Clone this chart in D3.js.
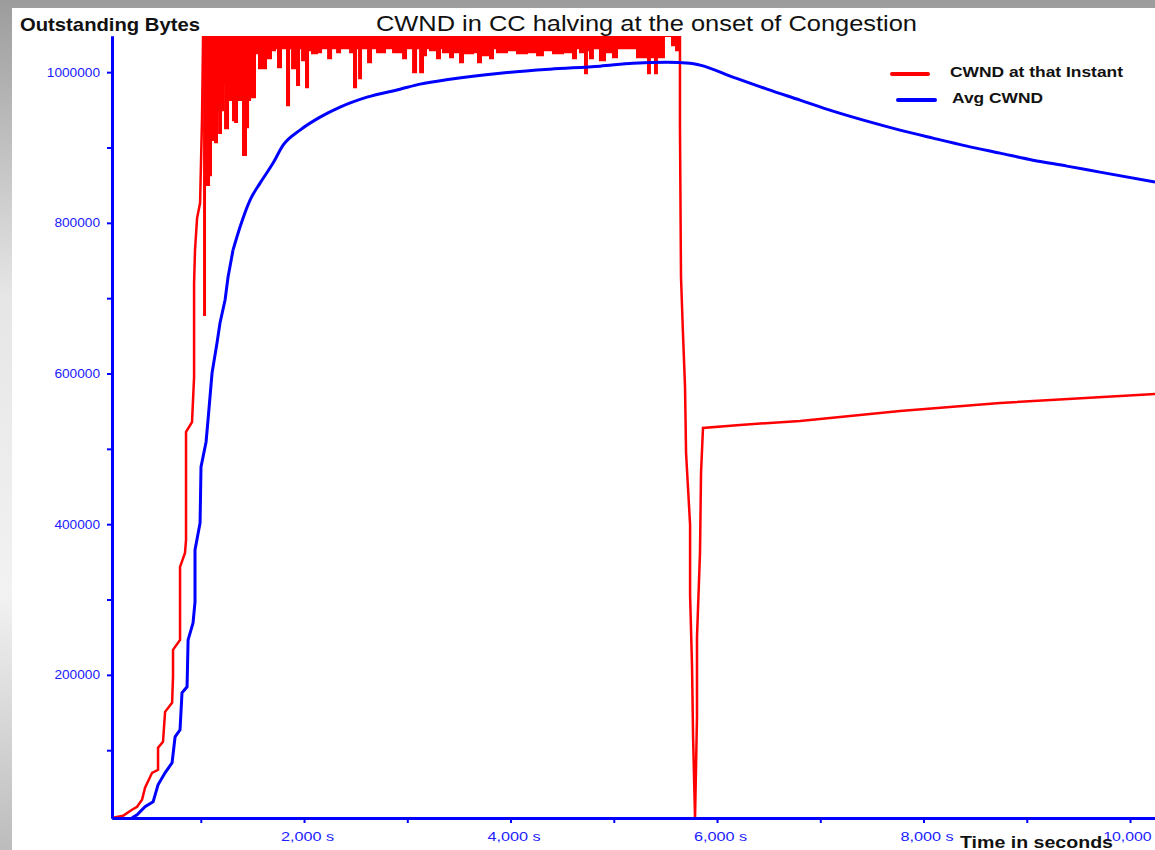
<!DOCTYPE html>
<html>
<head>
<meta charset="utf-8">
<title>CWND in CC halving at the onset of Congestion</title>
<script src="https://cdn.jsdelivr.net/npm/d3@7"></script>
<style>
  html, body { margin: 0; padding: 0; background: #fff; }
  #chart { width: 1155px; height: 850px; overflow: hidden; }
</style>
</head>
<body>
<div id="chart"></div>
<script>
(function () {
  'use strict';

  // axis ticks (time in ms, printed with an "s" suffix like the original slide)
  var xTickValues = [2000, 4000, 6000, 8000, 10000];
  var xMinorTicks = [1000, 3000, 5000, 7000, 9000];
  var yTickValues = [200000, 400000, 600000, 800000, 1000000];
  var yMinorTicks = [100000, 300000, 500000, 700000, 900000];

  // CWND at that instant: slow start ramp  [time, bytes]
  var redRise = [
    [150, 10300], [247, 12950], [334, 20900], [383, 24900], [431, 34200], [460, 50100],
    [528, 70000], [586, 74000], [586, 103200], [634, 111100], [654, 150900], [722, 162900],
    [731, 197400], [731, 233200], [799, 246400], [799, 343300], [847, 361900], [857, 379000],
    [857, 522400], [915, 535600], [935, 595400], [935, 720000], [944, 763800], [964, 806300],
    [993, 826200], [1012, 939000], [1022, 1048000]
  ];

  // congestion phase: lower edge of the dense oscillation, the rest is above the plot top
  var redPeak = [
    [1022, 677600], [1041, 936300], [1060, 850100], [1080, 863300], [1099, 909800], [1119, 949600],
    [1138, 907100], [1157, 949600], [1177, 919100], [1196, 949600], [1215, 985400], [1235, 925700],
    [1264, 962900], [1293, 982800], [1312, 936300], [1332, 933700], [1351, 993400], [1370, 962900],
    [1390, 992000], [1409, 889900], [1438, 927000], [1458, 962900], [1477, 1015900], [1496, 966800],
    [1525, 1025200], [1545, 1029200], [1564, 1005300], [1593, 1025200], [1612, 1005300], [1632, 1025200],
    [1651, 1018600], [1680, 1029200], [1719, 1031800], [1748, 1006600], [1777, 1031800], [1835, 956200],
    [1855, 1031800], [1884, 1005300], [1913, 1031800], [1932, 982800], [1952, 1031800], [1981, 1015900],
    [2000, 1031800], [2019, 980100], [2039, 1029200], [2077, 1025200], [2126, 1026500], [2165, 1031800],
    [2233, 1018600], [2262, 1031800], [2320, 1026500], [2349, 1031800], [2446, 1026500], [2484, 980100],
    [2504, 1031800], [2533, 992000], [2552, 1031800], [2620, 1013300], [2649, 1031800], [2707, 1026500],
    [2784, 1031800], [2862, 1026500], [2959, 1018600], [2988, 1031800], [3056, 1000000], [3085, 1031800],
    [3124, 1000000], [3152, 1022600], [3181, 1031800], [3220, 1029200], [3288, 1018600], [3317, 1031800],
    [3346, 1026500], [3414, 1019900], [3443, 1031800], [3462, 1026500], [3511, 1013300], [3540, 1031800],
    [3559, 1025200], [3637, 1026500], [3685, 1013300], [3714, 1031800], [3733, 1022600], [3801, 1018600],
    [3830, 1031800], [3869, 1026500], [3966, 1029200], [4063, 1025200], [4160, 1026500], [4257, 1022600],
    [4314, 1029200], [4411, 1025200], [4508, 1026500], [4605, 1018600], [4634, 1031800], [4673, 1026500],
    [4721, 998700], [4740, 1029200], [4769, 1018600], [4798, 1031800], [4866, 1015900], [4915, 1026500],
    [4992, 1019900], [5031, 1031800], [5225, 1019900], [5331, 998700], [5350, 1019900], [5399, 998700],
    [5418, 1019900], [5486, 1048000], [5564, 1035800], [5603, 1029200], [5641, 1029200]
  ];

  // halving at the onset of congestion, then linear growth
  var redAfter = [
    [5641, 1048000], [5641, 927000], [5651, 728000], [5670, 653700], [5690, 582100], [5700, 494500],
    [5739, 399000], [5739, 306100], [5758, 210600], [5768, 117700], [5787, 10300], [5806, 144300],
    [5806, 250400], [5835, 361900], [5845, 468000], [5864, 527700], [6223, 531700], [6804, 537000],
    [7772, 550200], [8741, 560900], [10242, 572800]
  ];

  // average CWND: stair-stepped ramp, then a smooth curve
  var avgRamp = [
    [334, 10300], [383, 14300], [460, 24900], [538, 31500], [586, 54100], [654, 70000],
    [722, 83300], [751, 117800], [799, 127000], [818, 176100], [867, 184100], [877, 246400],
    [925, 269000], [944, 296900], [944, 365800], [993, 401700], [1002, 475900], [1051, 509100],
    [1070, 538300], [1109, 600600], [1157, 640500], [1186, 667000], [1235, 697500], [1264, 728000],
    [1312, 763800]
  ];
  var avgSmooth = [
    [1312, 763800], [1380, 794400], [1477, 830200], [1574, 852700], [1700, 879300], [1797, 903100],
    [1961, 923100], [2155, 940300], [2349, 953600], [2610, 966800], [2930, 977400], [3124, 984100],
    [3414, 990700], [3899, 998700], [4383, 1004000], [4867, 1008000], [5186, 1011900], [5516, 1013300],
    [5739, 1011900], [5835, 1009300], [6154, 993400], [6484, 977400], [6804, 962900], [7123, 948300],
    [7452, 935000], [7772, 923100], [8092, 912400], [8421, 901800], [8741, 892500], [9060, 883200],
    [9389, 875300], [9709, 867300], [10242, 854100]
  ];

  var legendLabels = ['CWND at that Instant', 'Avg CWND'];
  var legendColors = ['#ff0000', '#0000ff'];

  var width = 1155;
  var height = 850;
  var plot = { left: 112, right: 1155, top: 36, bottom: 818 };
  var axisBlue = '#0000ff';
  var font = "'Liberation Sans', Arial, sans-serif";

  var svg = d3.select('#chart').append('svg')
    .attr('width', width)
    .attr('height', height);

  // slide frame: grey gradient behind a white sheet
  var defs = svg.append('defs');
  var frameGrad = defs.append('linearGradient')
    .attr('id', 'frameGrad')
    .attr('x1', '0%').attr('y1', '0%').attr('x2', '0%').attr('y2', '100%');
  frameGrad.append('stop').attr('offset', '0%').attr('stop-color', '#9c9c9c');
  frameGrad.append('stop').attr('offset', '35%').attr('stop-color', '#e6e6e6');
  frameGrad.append('stop').attr('offset', '70%').attr('stop-color', '#f2f2f2');
  frameGrad.append('stop').attr('offset', '100%').attr('stop-color', '#bcbcbc');
  svg.append('rect').attr('width', width).attr('height', height).attr('fill', 'url(#frameGrad)');
  svg.append('rect').attr('x', 12).attr('y', 8).attr('width', width - 12).attr('height', height - 8)
    .attr('fill', '#ffffff');

  defs.append('clipPath').attr('id', 'plotClip')
    .append('rect')
    .attr('x', plot.left)
    .attr('y', plot.top)
    .attr('width', plot.right - plot.left)
    .attr('height', plot.bottom - plot.top);

  var x = d3.scaleLinear().domain([140, 10300]).range([plot.left, 1161]);
  var y = d3.scaleLinear().domain([10000, 1048000]).range([plot.bottom, plot.top]);

  var line = d3.line()
    .x(function (d) { return x(d[0]); })
    .y(function (d) { return y(d[1]); });
  var smoothLine = d3.line()
    .x(function (d) { return x(d[0]); })
    .y(function (d) { return y(d[1]); })
    .curve(d3.curveMonotoneX);
  var stepLine = d3.line()
    .x(function (d) { return x(d[0]); })
    .y(function (d) { return y(d[1]); })
    .curve(d3.curveStepAfter);
  var peakArea = d3.area()
    .x(function (d) { return x(d[0]); })
    .y0(plot.top)
    .y1(function (d) { return y(d[1]); })
    .curve(d3.curveStepAfter);

  var g = svg.append('g').attr('clip-path', 'url(#plotClip)');

  g.append('path').datum(redPeak)
    .attr('d', peakArea)
    .attr('fill', '#ff0000');
  g.append('path').datum(redPeak)
    .attr('d', stepLine)
    .attr('fill', 'none')
    .attr('stroke', '#ff0000')
    .attr('stroke-width', 2);
  g.append('path').datum(redRise)
    .attr('d', line)
    .attr('fill', 'none')
    .attr('stroke', '#ff0000')
    .attr('stroke-width', 2.5);
  g.append('path').datum(redAfter)
    .attr('d', line)
    .attr('fill', 'none')
    .attr('stroke', '#ff0000')
    .attr('stroke-width', 2.5);
  g.append('path').datum(avgRamp)
    .attr('d', line)
    .attr('fill', 'none')
    .attr('stroke', '#0000ff')
    .attr('stroke-width', 3);
  g.append('path').datum(avgSmooth)
    .attr('d', smoothLine)
    .attr('fill', 'none')
    .attr('stroke', '#0000ff')
    .attr('stroke-width', 3);

  // axes
  function styleAxis(sel) {
    sel.select('.domain').attr('stroke', axisBlue).attr('stroke-width', 3);
    sel.selectAll('.tick line').attr('stroke', axisBlue).attr('stroke-width', 2);
    sel.selectAll('.tick text')
      .attr('fill', '#2020ff')
      .style('font-family', font)
      .style('font-size', '12px')
      .attr('lengthAdjust', 'spacingAndGlyphs')
      .attr('textLength', function () { return this.textContent.length * 7.6; });
  }

  var yAxis = svg.append('g')
    .attr('transform', 'translate(' + plot.left + ',0)')
    .call(d3.axisLeft(y).tickValues(yTickValues).tickSize(5).tickSizeOuter(0).tickPadding(7)
      .tickFormat(d3.format('d')));
  styleAxis(yAxis);
  var yMinor = svg.append('g')
    .attr('transform', 'translate(' + plot.left + ',0)')
    .call(d3.axisLeft(y).tickValues(yMinorTicks).tickSize(5).tickSizeOuter(0).tickFormat(''));
  styleAxis(yMinor);

  var xAxis = svg.append('g')
    .attr('transform', 'translate(0,' + plot.bottom + ')')
    .call(d3.axisBottom(x).tickValues(xTickValues).tickSize(5).tickSizeOuter(0).tickPadding(9)
      .tickFormat(function (d) { return d3.format(',')(d) + ' s'; }));
  styleAxis(xAxis);
  xAxis.selectAll('.tick text').attr('dx', 3);
  var xMinor = svg.append('g')
    .attr('transform', 'translate(0,' + plot.bottom + ')')
    .call(d3.axisBottom(x).tickValues(xMinorTicks).tickSize(5).tickSizeOuter(0).tickFormat(''));
  styleAxis(xMinor);

  // titles
  svg.append('text')
    .attr('x', 376).attr('y', 31)
    .attr('textLength', 541).attr('lengthAdjust', 'spacingAndGlyphs')
    .style('font-family', font).style('font-size', '22px')
    .attr('fill', '#111')
    .text('CWND in CC halving at the onset of Congestion');
  svg.append('text')
    .attr('x', 20).attr('y', 31)
    .attr('textLength', 180).attr('lengthAdjust', 'spacingAndGlyphs')
    .style('font-family', font).style('font-size', '19px').style('font-weight', 'bold')
    .attr('fill', '#111')
    .text('Outstanding Bytes');
  svg.append('text')
    .attr('x', 960).attr('y', 848)
    .attr('textLength', 153).attr('lengthAdjust', 'spacingAndGlyphs')
    .style('font-family', font).style('font-size', '17px').style('font-weight', 'bold')
    .attr('fill', '#111')
    .text('Time in seconds');

  // legend
  var legend = svg.append('g');
  var legendLines = [[892, 928, 74], [898, 935, 100]];
  var legendText = [[950, 77, 173], [952, 103, 91]];
  legendLabels.forEach(function (label, i) {
    legend.append('line')
      .attr('x1', legendLines[i][0]).attr('x2', legendLines[i][1])
      .attr('y1', legendLines[i][2]).attr('y2', legendLines[i][2])
      .attr('stroke', legendColors[i])
      .attr('stroke-width', 4)
      .attr('stroke-linecap', 'round');
    legend.append('text')
      .attr('x', legendText[i][0]).attr('y', legendText[i][1])
      .attr('textLength', legendText[i][2]).attr('lengthAdjust', 'spacingAndGlyphs')
      .style('font-family', font).style('font-size', '15px').style('font-weight', 'bold')
      .attr('fill', '#111')
      .text(label);
  });
})();
</script>
</body>
</html>
